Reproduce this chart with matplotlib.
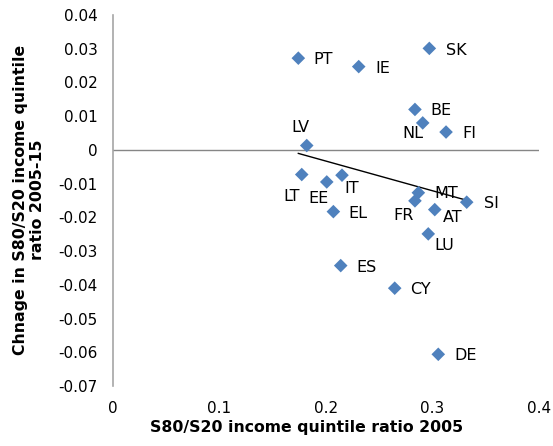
import numpy as np
import matplotlib
matplotlib.use("Agg")
import matplotlib.pyplot as plt

# data
countries = ["PT", "IE", "SK", "BE", "NL", "FI", "LV", "LT", "EE", "IT",
             "MT", "FR", "SI", "AT", "EL", "LU", "ES", "CY", "DE"]
ratio_2005 = [0.1743, 0.2310, 0.2973, 0.2838, 0.2911, 0.3130, 0.1822, 0.1775, 0.2010, 0.2153,
              0.2870, 0.2838, 0.3324, 0.3024, 0.2072, 0.2963, 0.2141, 0.2648, 0.3057]
change_2005_15 = [0.0272, 0.0247, 0.0301, 0.0120, 0.0080, 0.0053, 0.0013, -0.0073, -0.0095, -0.0075,
                  -0.0127, -0.0151, -0.0155, -0.0177, -0.0183, -0.0249, -0.0343, -0.0410, -0.0606]
x_ticks = [0, 0.1, 0.2, 0.3, 0.4]
y_ticks = [0.04, 0.03, 0.02, 0.01, 0, -0.01, -0.02, -0.03, -0.04, -0.05, -0.06, -0.07]

# label offsets (pixels, right / down)
label_off = {"PT": (25, 1), "IE": (24, 2), "SK": (27, 2), "BE": (26, 1), "NL": (-10, 11),
             "FI": (23, 1), "LV": (-6, -18), "LT": (-10, 22), "EE": (-8, 17), "IT": (10, 13),
             "MT": (28, 1), "FR": (-11, 15), "SI": (25, 1), "AT": (18, 8), "EL": (25, 2),
             "LU": (16, 12), "ES": (26, 2), "CY": (26, 1), "DE": (27, 1)}

W, H = 553, 446
fig = plt.figure(figsize=(W / 100, H / 100), dpi=100)
ax = fig.add_axes([112.7 / W, 1 - 386 / H, (538.7 - 112.7) / W, (386 - 15) / H])

x = np.array(ratio_2005)
y = np.array(change_2005_15)

# trendline (linear fit over data range, like Excel)
k, b = np.polyfit(x, y, 1)
xs = np.array([x.min(), x.max()])
ax.plot(xs, k * xs + b, color="black", lw=1, zorder=2)

ax.axhline(0, color="#868686", lw=1, zorder=1)
ax.scatter(x, y, marker="D", s=48, color="#4F81BD", edgecolors="none", zorder=3)

for c, xi, yi in zip(countries, x, y):
    dx, dy = label_off[c]
    ax.annotate(c, (xi, yi), xytext=(dx * 0.72, -dy * 0.72), textcoords="offset points",
                ha="center", va="center", fontsize=11.5, color="black")

ax.set_xlim(0, 0.4)
ax.set_ylim(-0.07, 0.04)
ax.set_xticks(x_ticks)
ax.set_xticklabels(["0", "0.1", "0.2", "0.3", "0.4"])
ax.set_yticks(y_ticks)
ax.set_yticklabels(["0.04", "0.03", "0.02", "0.01", "0", "-0.01", "-0.02", "-0.03",
                    "-0.04", "-0.05", "-0.06", "-0.07"])
ax.tick_params(length=0, labelsize=11)
ax.tick_params(axis="x", pad=10.5)
ax.tick_params(axis="y", pad=11)
for s in ["top", "right", "bottom"]:
    ax.spines[s].set_visible(False)
ax.spines["left"].set_color("#A6A6A6")
ax.spines["left"].set_linewidth(1.2)

fig.text(307 / W, 1 - 432 / H, "S80/S20 income quintile ratio 2005",
         ha="center", va="baseline", fontsize=11.3, fontweight="bold")
fig.text(29 / W, 1 - 200 / H, "Chnage in S80/S20 income quintile\nratio 2005-15",
         ha="center", va="center", rotation=90, fontsize=11.3, fontweight="bold",
         multialignment="center")

fig.savefig("out.png", dpi=100)
